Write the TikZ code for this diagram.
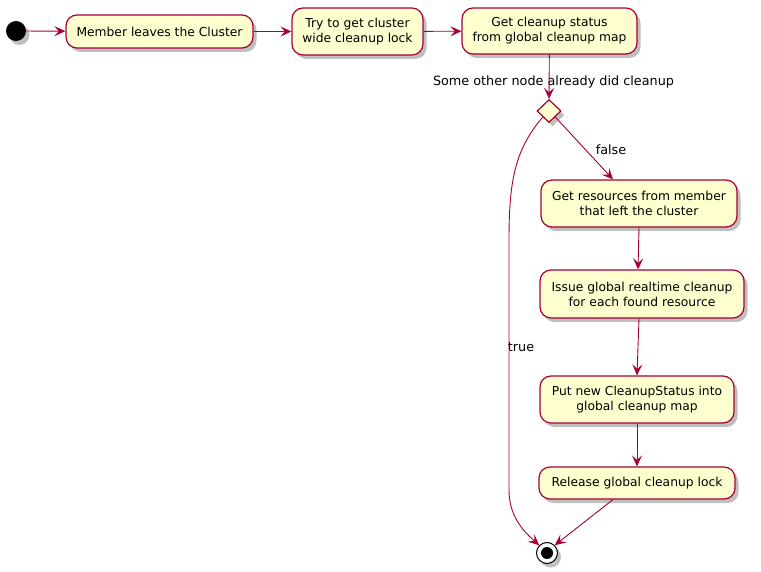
\documentclass[tikz,border=0pt]{standalone}
\usepackage{fontspec}
\setmainfont{DejaVu Sans}
\usetikzlibrary{arrows.meta,shapes.geometric,shadows}
\definecolor{umlred}{HTML}{A80036}
\definecolor{umlfill}{HTML}{FEFECE}
\begin{document}
\begin{tikzpicture}[x=1pt,y=-1pt,
  shd/.style={drop shadow={shadow xshift=3.5pt,shadow yshift=-4pt,opacity=0.5,fill=black!50}},
  act/.style={draw=umlred,fill=umlfill,line width=1.2pt,rounded corners=11pt,align=center,
    inner sep=0pt,font=\fontsize{12.3}{15}\selectfont,shd},
  arr/.style={draw=umlred,line width=0.9pt,-{Stealth[length=11pt,width=10pt,inset=4.5pt]}},
  lbl/.style={font=\fontsize{12.8}{14}\selectfont,inner sep=0pt}]
\useasboundingbox (0,0) rectangle (761,572);
\node[circle,fill=black,minimum size=20pt,inner sep=0pt,shd] (start) at (16,31) {};
\node[act,minimum width=187pt,minimum height=33pt] (n1) at (159.5,31.5) {Member leaves the Cluster};
\node[act,minimum width=131pt,minimum height=47pt] (n2) at (357.5,31.5) {Try to get cluster\\wide cleanup lock};
\node[act,minimum width=175pt,minimum height=46pt] (n3) at (549.5,31) {Get cleanup status\\from global cleanup map};
\node[diamond,draw=umlred,fill=umlfill,line width=1.2pt,minimum width=24pt,minimum height=23pt,inner sep=0pt,shd] (dia) at (549,111) {};
\node[lbl] (cond) at (553.5,82) {Some other node already did cleanup};
\node[act,minimum width=196pt,minimum height=47pt] (n4) at (639,203.5) {Get resources from member\\that left the cluster};
\node[act,minimum width=204pt,minimum height=48pt] (n5) at (642,294) {Issue global realtime cleanup\\for each found resource};
\node[act,minimum width=194pt,minimum height=47pt] (n6) at (637,399.5) {Put new CleanupStatus into\\global cleanup map};
\node[act,minimum width=196pt,minimum height=32pt] (n7) at (637,483) {Release global cleanup lock};
\node[circle,draw=black,fill=white,line width=1pt,minimum size=21pt,inner sep=0pt,shd] (stop) at (547,553) {};
\node[circle,fill=black,minimum size=12pt,inner sep=0pt] (stopin) at (stop) {};
\node[lbl] (lfalse) at (611,150) {false};
\node[lbl] (ltrue) at (521,347) {true};
\draw[arr] (start) -- (n1);
\draw[arr] (n1) -- (n2);
\draw[arr] (n2) -- (n3);
\draw[arr] (n3) -- (dia.north);
\draw[arr] (dia.south east) -- ([xshift=-26pt]n4.north);
\draw[arr] (dia.south west) .. controls (515,150) and (509,180) .. (509,240) -- (509,490) .. controls (509,515) and (522,530) .. (stop.north west);
\draw[arr] (n4.south) -- ([xshift=-4pt]n5.north);
\draw[arr] ([xshift=-3pt]n5.south) -- (n6.north);
\draw[arr] (n6) -- (n7);
\draw[arr] ([xshift=-24pt]n7.south) -- (stop.north east);
\end{tikzpicture}
\end{document}
